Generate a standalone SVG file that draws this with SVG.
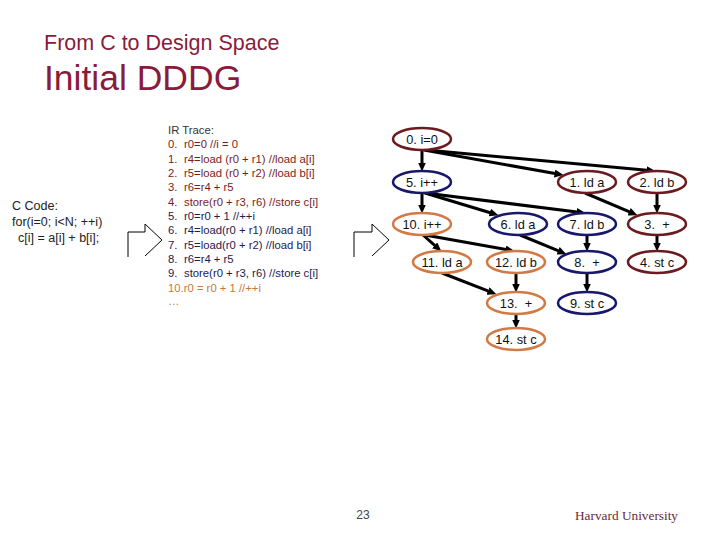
<svg xmlns="http://www.w3.org/2000/svg" width="720" height="540" viewBox="0 0 720 540">
<style>
.title{font-family:"Liberation Sans",Arial,sans-serif;fill:#8a1b3b}
.ir{font-family:"Liberation Sans",Arial,sans-serif;font-size:11.3px}
.code{font-family:"Liberation Sans",Arial,sans-serif;font-size:12.5px;fill:#222}
.nl{font-family:"Liberation Sans",Arial,sans-serif;font-size:12.8px;fill:#111;text-anchor:middle}
ellipse{fill:#fff;stroke-width:2.5}
.m ellipse{stroke:#6b1a1f}
.b ellipse{stroke:#17176b}
.o ellipse{stroke:#d27a45}
.e line{stroke:#000;stroke-width:3;marker-end:url(#ah)}
.barrow{fill:none;stroke:#000;stroke-width:1}
.c0{fill:#7a1c1c}.c1{fill:#1f2050}.c2{fill:#c87838}
</style>
<defs>
<marker id="ah" markerUnits="userSpaceOnUse" markerWidth="9" markerHeight="8" viewBox="0 0 9 8" refX="0.5" refY="4" orient="auto">
<path d="M0,0 L9,4 L0,8 z" fill="#000"/>
</marker>
</defs>
<rect width="720" height="540" fill="#fff"/>
<text class="title" x="44" y="50" font-size="21.5">From C to Design Space</text>
<text class="title" x="44" y="90" font-size="35.5">Initial DDDG</text>

<g id="ccode">
<text class="code" x="12" y="210">C Code:</text>
<text class="code" x="12" y="226">for(i=0; i&lt;N; ++i)</text>
<text class="code" x="18" y="242">c[i] = a[i] + b[i];</text>
</g>

<g id="arrow1"><path class="barrow" d="M128,257 L128,232 L145,232 L145,224 L162,240 L145,256"/></g>

<g id="irtrace" class="ir" xml:space="preserve">
<text x="168" y="134" fill="#333">IR Trace:</text>
<text class="c0" y="148.3"><tspan x="168">0.</tspan><tspan x="184">r0=0  //i = 0</tspan></text>
<text class="c0" y="162.7"><tspan x="168">1.</tspan><tspan x="184">r4=load (r0 + r1) //load a[i]</tspan></text>
<text class="c0" y="177"><tspan x="168">2.</tspan><tspan x="184">r5=load (r0 + r2) //load b[i]</tspan></text>
<text class="c0" y="191.3"><tspan x="168">3.</tspan><tspan x="184">r6=r4 + r5</tspan></text>
<text class="c0" y="205.7"><tspan x="168">4.</tspan><tspan x="184">store(r0 + r3, r6) //store c[i]</tspan></text>
<text class="c1" y="220"><tspan x="168">5.</tspan><tspan x="184">r0=r0 + 1  //++i</tspan></text>
<text class="c1" y="234.3"><tspan x="168">6.</tspan><tspan x="184">r4=load(r0 + r1) //load a[i]</tspan></text>
<text class="c1" y="248.7"><tspan x="168">7.</tspan><tspan x="184">r5=load(r0 + r2) //load b[i]</tspan></text>
<text class="c1" y="263"><tspan x="168">8.</tspan><tspan x="184">r6=r4 + r5</tspan></text>
<text class="c1" y="277.3"><tspan x="168">9.</tspan><tspan x="184">store(r0 + r3, r6) //store c[i]</tspan></text>
<text class="c2" x="168" y="291.7">10.r0 = r0 + 1  //++i</text>
<text class="c2" x="168" y="305">…</text>
</g>

<g id="arrow2"><path class="barrow" d="M354,257 L354,232 L372,232 L372,224 L389,240 L372,256"/></g>

<g id="edges" class="e">
<line x1="422" y1="150" x2="422" y2="163"/>
<line x1="424" y1="150" x2="555.1" y2="173.6"/>
<line x1="426" y1="150" x2="647" y2="170.3"/>
<line x1="422" y1="193" x2="422" y2="205"/>
<line x1="425" y1="193" x2="490.3" y2="212.7"/>
<line x1="425" y1="193" x2="577.1" y2="212"/>
<line x1="585" y1="193" x2="629.6" y2="211.9"/>
<line x1="657" y1="193" x2="657" y2="205"/>
<line x1="423" y1="235" x2="435" y2="245.7"/>
<line x1="425" y1="235" x2="506.1" y2="249.6"/>
<line x1="520" y1="235" x2="558.6" y2="250.9"/>
<line x1="587" y1="235" x2="587" y2="243"/>
<line x1="657" y1="235" x2="657" y2="243"/>
<line x1="442" y1="273" x2="488.5" y2="291.1"/>
<line x1="516" y1="273" x2="516" y2="284"/>
<line x1="587" y1="273" x2="587" y2="284"/>
<line x1="516" y1="314" x2="516" y2="320"/>
</g>

<g id="n0" class="m"><ellipse cx="422" cy="139" rx="29" ry="11"/><text class="nl" x="422" y="143.5">0. i=0</text></g>
<g id="n5" class="b"><ellipse cx="422" cy="182" rx="29" ry="11"/><text class="nl" x="422" y="186.5">5. i++</text></g>
<g id="n1" class="m"><ellipse cx="587" cy="182" rx="29" ry="11"/><text class="nl" x="587" y="186.5">1. ld a</text></g>
<g id="n2" class="m"><ellipse cx="657" cy="182" rx="29" ry="11"/><text class="nl" x="657" y="186.5">2. ld b</text></g>
<g id="n10" class="o"><ellipse cx="422" cy="224" rx="29" ry="11"/><text class="nl" x="422" y="228.5">10. i++</text></g>
<g id="n6" class="b"><ellipse cx="518" cy="224" rx="29" ry="11"/><text class="nl" x="518" y="228.5">6. ld a</text></g>
<g id="n7" class="b"><ellipse cx="587" cy="224" rx="29" ry="11"/><text class="nl" x="587" y="228.5">7. ld b</text></g>
<g id="n3" class="m"><ellipse cx="657" cy="224" rx="29" ry="11"/><text class="nl" x="657" y="228.5" xml:space="preserve">3.  +</text></g>
<g id="n11" class="o"><ellipse cx="442" cy="262" rx="29" ry="11"/><text class="nl" x="442" y="266.5">11. ld a</text></g>
<g id="n12" class="o"><ellipse cx="516" cy="262" rx="29" ry="11"/><text class="nl" x="516" y="266.5">12. ld b</text></g>
<g id="n8" class="b"><ellipse cx="587" cy="262" rx="29" ry="11"/><text class="nl" x="587" y="266.5" xml:space="preserve">8.  +</text></g>
<g id="n4" class="m"><ellipse cx="657" cy="262" rx="29" ry="11"/><text class="nl" x="657" y="266.5">4. st c</text></g>
<g id="n13" class="o"><ellipse cx="516" cy="303" rx="29" ry="11"/><text class="nl" x="516" y="307.5" xml:space="preserve">13.  +</text></g>
<g id="n9" class="b"><ellipse cx="587" cy="303" rx="29" ry="11"/><text class="nl" x="587" y="307.5">9. st c</text></g>
<g id="n14" class="o"><ellipse cx="516" cy="339" rx="29" ry="11"/><text class="nl" x="516" y="343.5">14. st c</text></g>

<text x="363" y="519" font-family="Liberation Sans,Arial,sans-serif" font-size="12" fill="#444" text-anchor="middle">23</text>
<text x="575" y="520" font-family="Liberation Serif,Times New Roman,serif" font-size="13.3" fill="#6b1f3a">Harvard University</text>
</svg>
